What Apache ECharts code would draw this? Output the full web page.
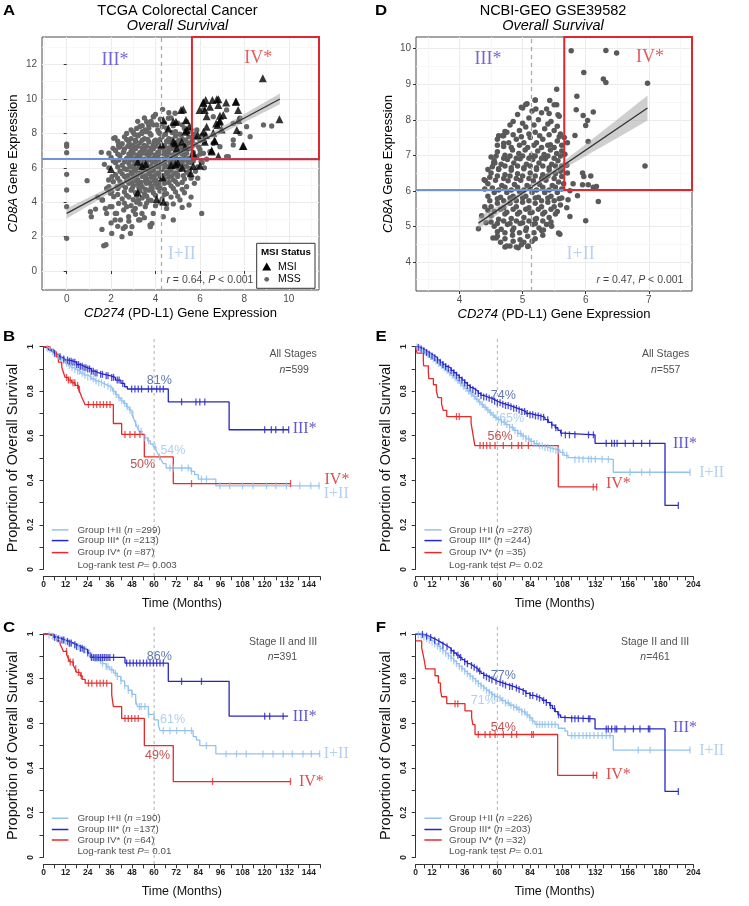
<!DOCTYPE html>
<html>
<head>
<meta charset="utf-8">
<script src="https://cdn.jsdelivr.net/npm/echarts@6.0.0/dist/echarts.min.js"></script>
<style>
html, body { margin: 0; padding: 0; background: #fff; }
#chart { width: 749px; height: 906px; }
</style>
</head>
<body>
<div id="chart"></div>
<script>
// ---------- scatter data (A: TCGA, D: GSE39582) ----------
const tcgaMss = [
  [0,7.38],[0,7.25],[0,6.88],[0,5.62],[0,4.71],[0,3.74],[0,1.9],
  [0.92,5.25],[1.07,3.45],[1.11,3.16],[1.56,6.9],[1.59,2.42],[1.67,1.47],[1.77,1.53],[1.59,4.13],[1.74,3.64],
  [1.89,5.29],[2.04,5.48],[1.97,4.52],[2.12,4.32],[2.27,4.9],[2.04,3.74],[2.19,3.35],[2.34,3.93],[2.42,2.97],
  [2.57,3.55],[2.64,2.58],[2.79,3.16],[2.94,2.58],[3.09,3.64],[3.24,2.97],[3.39,3.35],[3.54,3.74],[3.69,4.13],
  [3.77,2.58],[2.49,2.0],[2.87,2.19],[3.84,2.77],[2.03,2.19],[2.18,2.97],[2.55,2.48],[3.3,2.97],[3.75,2.67],
  [3.9,3.35],[2.7,3.74],[2.25,3.35],[1.8,3.35],[3.23,4.13],[1.95,3.74],[1.62,4.13],[2.03,4.61],[2.33,4.9],[2.1,5.19],
  [2.12,7.71],[2.09,7.13],[2.34,7.33],[2.57,6.94],[2.87,7.33],[3.09,7.52],[3.24,7.91],[3.39,8.0],[3.54,8.2],
  [3.69,8.49],[3.92,8.97],[4.22,8.82],[2.18,7.75],[2.4,7.23],[2.85,7.23],[3.15,8.29],[3.6,8.68],[3.9,8.97],
  [3.6,8.1],[4.05,8.49],[4.32,9.4],[4.58,8.88],[4.88,9.17],[4.2,8.0],
  [6.08,3.35],[5.51,3.84],[5.1,4.13],[4.8,2.97],[4.35,3.16],[4.5,3.64],
  [5.4,8.68],[5.86,8.2],[6.16,9.36],[6.6,8.97],[7.2,9.36],[7.5,8.58],[7.8,8.88],[8.1,8.39],[8.86,8.49],[9.23,8.43],
  [8.26,7.81],[7.8,8.0],[7.5,7.33],[6.9,7.23],[6.6,7.42],[6.45,6.94],[7.2,6.65],[6.16,6.84],[5.86,6.65],[7.5,7.62],[7.28,6.65],
  [3.2,8.7],[3.5,8.9],[4.0,9.1],[4.4,8.6],[4.7,8.9],[5.0,8.6],[3.8,8.7],[4.6,9.2],
  [3.4,8.45],[3.9,8.5],[4.3,8.4],[4.8,8.45],[5.2,8.5],
  [2.9,8.2],[3.3,8.4],[3.7,8.3],[4.1,8.2],[4.5,8.3],[4.9,8.1],[5.3,8.3],[5.6,8.2],[3.0,8.05],
  [2.7,8.0],[3.05,7.95],[3.4,8.1],[3.75,8.0],[4.15,8.05],[4.45,7.95],[4.75,8.05],[5.1,7.95],[5.45,8.05],[5.75,7.95],
  [2.6,7.8],[2.9,7.7],[3.2,7.85],[3.5,7.7],[3.8,7.9],[4.0,7.6],[4.3,7.8],[4.6,7.7],[4.9,7.85],[5.2,7.7],[5.5,7.8],[5.8,7.75],[6.1,7.9],
  [2.3,7.55],[2.7,7.65],[3.1,7.6],[3.4,7.6],[3.65,7.65],[3.95,7.55],[4.2,7.65],[4.5,7.55],[4.75,7.65],[5.05,7.6],[5.35,7.6],[5.65,7.55],[6.0,7.6],
  [2.5,7.4],[2.8,7.5],[3.0,7.3],[3.3,7.45],[3.5,7.3],[3.7,7.5],[3.9,7.35],[4.1,7.45],[4.4,7.3],[4.6,7.5],[4.8,7.35],
  [5.0,7.5],[5.3,7.3],[5.5,7.45],[5.8,7.35],[6.2,7.5],
  [2.35,7.2],[2.75,7.25],[3.0,7.15],[3.2,7.25],[3.4,7.15],[3.6,7.25],[3.8,7.15],[4.0,7.25],[4.2,7.15],[4.4,7.25],[4.6,7.15],
  [4.85,7.2],[5.1,7.25],[5.4,7.2],[5.65,7.25],[5.95,7.2],
  [2.2,7.0],[2.6,7.1],[2.9,6.95],[3.1,7.1],[3.3,6.9],[3.5,7.05],[3.7,6.95],[3.9,7.1],[4.1,6.9],[4.3,7.05],[4.5,6.95],
  [4.7,7.1],[4.9,6.9],[5.1,7.05],[5.3,6.95],[5.5,7.1],[5.7,6.9],[6.0,7.05],
  [1.9,6.85],[2.3,6.8],[2.55,6.9],[2.8,6.8],[3.0,6.85],[3.2,6.75],[3.4,6.85],[3.6,6.8],[3.8,6.85],[4.0,6.75],[4.2,6.85],
  [4.4,6.8],[4.6,6.85],[4.8,6.75],[5.0,6.85],[5.2,6.8],[5.4,6.85],[5.65,6.75],[6.0,6.8],
  [2.0,6.6],[2.4,6.7],[2.7,6.55],[2.9,6.7],[3.1,6.55],[3.3,6.65],[3.5,6.5],[3.7,6.7],[3.9,6.55],[4.1,6.65],[4.3,6.5],
  [4.5,6.7],[4.7,6.55],[4.9,6.65],[5.1,6.5],[5.3,6.7],[5.5,6.55],[5.8,6.6],[6.3,6.5],
  [2.1,6.4],[2.35,6.45],[2.6,6.35],[2.85,6.45],[3.05,6.35],[3.25,6.45],[3.45,6.35],[3.65,6.45],[3.85,6.35],[4.05,6.45],
  [4.25,6.35],[4.45,6.45],[4.65,6.35],[4.85,6.45],[5.05,6.35],[5.25,6.45],[5.45,6.35],[5.7,6.4],[6.05,6.35],
  [1.7,6.2],[2.2,6.3],[2.5,6.15],[2.8,6.25],[3.0,6.1],[3.2,6.3],[3.4,6.15],[3.6,6.25],[3.8,6.1],[4.0,6.3],[4.2,6.15],
  [4.4,6.25],[4.6,6.1],[4.8,6.3],[5.0,6.15],[5.2,6.25],[5.4,6.1],[5.6,6.3],[6.2,6.0],
  [1.9,6.0],[2.3,6.05],[2.6,5.95],[2.85,6.05],[3.05,5.95],[3.25,6.05],[3.45,5.95],[3.65,6.05],[3.85,5.95],[4.05,6.05],
  [4.25,5.95],[4.45,6.05],[4.65,5.95],[4.85,6.05],[5.05,5.95],[5.3,6.05],[5.55,5.95],[5.9,6.05],
  [2.4,5.8],[2.7,5.9],[2.9,5.75],[3.1,5.85],[3.3,5.7],[3.5,5.9],[3.7,5.75],[3.9,5.85],[4.1,5.7],[4.3,5.9],[4.5,5.75],
  [4.7,5.85],[4.9,5.7],[5.1,5.9],[5.4,5.75],[5.8,5.8],
  [2.2,5.6],[2.5,5.65],[2.75,5.55],[2.95,5.65],[3.15,5.55],[3.35,5.65],[3.55,5.55],[3.75,5.65],[3.95,5.55],[4.15,5.65],
  [4.35,5.55],[4.55,5.65],[4.75,5.55],[5.0,5.6],[5.25,5.55],[5.5,5.65],
  [2.3,5.4],[2.6,5.5],[2.8,5.35],[3.0,5.45],[3.2,5.3],[3.4,5.5],[3.6,5.35],[3.8,5.45],[4.0,5.3],[4.2,5.5],[4.4,5.35],
  [4.6,5.45],[4.8,5.3],[5.0,5.5],[5.3,5.35],[5.6,5.4],
  [2.4,5.2],[2.7,5.25],[2.95,5.15],[3.15,5.25],[3.35,5.15],[3.55,5.25],[3.75,5.15],[3.95,5.25],[4.15,5.15],[4.35,5.25],
  [4.6,5.15],[4.9,5.2],[5.2,5.15],
  [2.5,5.0],[2.8,5.1],[3.0,4.95],[3.2,5.05],[3.4,4.9],[3.6,5.1],[3.8,4.95],[4.0,5.05],[4.2,4.9],[4.4,5.1],[4.7,4.95],[5.0,5.05],[5.4,4.9],
  [2.3,4.8],[2.65,4.85],[2.95,4.8],[3.25,4.85],[3.55,4.75],[3.85,4.8],[4.1,4.85],[4.4,4.75],[4.8,4.8],[5.2,4.75],
  [2.6,4.6],[2.9,4.7],[3.1,4.55],[3.3,4.65],[3.5,4.5],[3.7,4.7],[3.9,4.55],[4.2,4.65],[4.5,4.5],[4.9,4.6],[5.3,4.55],
  [2.3,4.45],[2.7,4.4],[3.15,4.4],[3.6,4.35],[4.0,4.4],[4.4,4.45],[5.0,4.35],
  [2.5,4.2],[2.8,4.3],[3.0,4.15],[3.4,4.25],[3.8,4.1],[4.3,4.2],[4.7,4.3],[5.6,4.3],
  [2.6,3.95],[3.15,4.0],[3.6,3.95],[4.2,4.0],[4.8,3.9],
  [2.9,3.8],[3.3,3.9],[4.0,3.8],[4.5,3.9],[5.2,3.7],
  [1.4,4.3],[1.8,4.8],[1.3,3.6],[2.0,2.8],[2.3,2.6],[2.8,2.9],[3.1,3.3],[3.5,3.1],[3.0,3.5],[1.9,4.9],
  [5.9,5.4],[5.75,5.1],[6.1,6.3]
];
const tcgaMsi = [
  [2.0,5.93],[3.2,4.57],[3.56,6.22],[4.28,7.36],[4.31,5.45],[4.05,4.19],[4.35,4.03],[4.7,6.16],[4.58,8.29],[4.8,8.68],
  [4.88,7.42],[5.15,9.36],[4.95,7.13],[5.53,8.43],[5.33,8.1],[5.59,5.68],[5.7,6.1],[6.0,6.12],[5.7,6.84],[5.18,7.52],
  [5.33,7.23],[4.8,7.52],[4.35,8.78],[6.53,6.94],[6.65,7.58],[6.83,6.69],[6.6,8.04],[7.93,7.27],[7.66,8.2],[7.61,9.84],
  [7.72,9.36],[7.18,9.79],[6.9,9.03],[6.9,8.74],[6.73,8.58],[6.3,9.0],[6.26,9.94],[6.56,9.94],[6.83,9.98],[6.45,9.55],
  [5.98,9.36],[6.16,9.75],[6.16,8.1],[6.3,8.39],[8.83,11.2],[9.58,8.82],[6.15,9.81],[6.76,9.98],[7.63,9.85],[6.83,9.65],
  [6.22,9.36],[5.25,9.4],[7.05,9.07],[6.88,8.68],[6.79,8.49],[6.98,8.23],[5.37,8.78],[4.92,8.68],[5.4,8.2],[7.73,8.78],
  [6.27,7.9],[7.96,7.26],[6.53,7.0],[6.68,7.55],[6.22,7.51],[5.9,7.9],[5.0,6.3],[5.2,6.0],[3.2,6.35],[3.4,6.1],[4.9,6.2]
];
const geoPoints = [
  [5.77,9.94],[6.32,9.95],[6.49,9.88],[5.97,9.33],[6.28,9.15],[6.32,9.05],[6.98,9.03],[5.86,8.66],[5.85,8.28],
  [5.96,8.12],[6.12,8.22],[6.03,7.98],[6.0,7.84],[6.04,7.39],[5.83,7.56],[6.94,6.7],[5.95,6.5],[5.97,6.4],[6.08,6.42],
  [5.95,6.17],[6.04,6.17],[6.12,6.1],[6.17,6.12],[5.87,5.86],[6.2,5.7],[6.0,5.16],[5.54,8.86],[5.2,8.56],[5.0,8.33],
  [5.07,8.45],[5.21,8.3],[5.43,8.54],[5.54,8.42],[5.56,8.14],[4.7,7.55],[4.54,6.78],[4.41,6.28],[4.3,4.93],[4.53,4.67],
  [4.58,4.67],[4.75,4.45],[4.93,4.4],[5.09,4.45],[4.9,4.42],[5.57,4.81],[5.59,4.78],[5.75,5.28],[5.72,5.75],[5.7,5.52],
  [5.75,6.0],[5.46,5.0],[5.33,4.9],[5.2,5.2],[5.66,7.5],[5.71,7.35],[5.67,7.03],[5.7,6.72],[5.71,6.5],[5.8,6.2],
  [4.72,7.67],[4.7,7.34],[4.56,6.78],[4.39,6.31],[4.4,5.55],[4.35,5.3],[4.42,5.1],[4.45,6.6],[4.5,6.95],[4.62,7.55],
  [4.98,8.35],[5.05,8.43],[5.2,8.55],[5.38,8.3],[5.5,8.42],
  [4.92,8.15],[5.15,8.25],[5.42,8.18],
  [4.85,7.95],[5.1,8.05],[5.25,8.0],[5.45,7.95],[5.58,8.1],[5.3,8.2],
  [4.8,7.85],[5.0,7.9],[5.18,7.85],[5.4,7.88],[5.55,7.82],
  [4.75,7.65],[4.95,7.7],[5.05,7.8],[5.2,7.65],[5.35,7.75],[5.5,7.7],[5.6,7.6],
  [4.68,7.55],[4.85,7.58],[4.98,7.52],[5.1,7.6],[5.27,7.55],[5.42,7.58],[5.58,7.52],
  [4.6,7.45],[4.78,7.35],[4.9,7.45],[5.02,7.35],[5.12,7.5],[5.22,7.35],[5.32,7.45],[5.44,7.3],[5.55,7.4],[4.7,7.25],
  [4.6,7.28],[4.82,7.22],[4.95,7.28],[5.08,7.22],[5.18,7.28],[5.3,7.22],[5.4,7.28],[5.5,7.22],[5.62,7.28],
  [4.6,7.1],[4.72,7.0],[4.84,7.15],[4.94,7.05],[5.04,7.15],[5.14,7.0],[5.24,7.12],[5.34,7.02],[5.44,7.15],[5.54,7.05],[5.62,7.12],
  [4.58,6.98],[4.7,6.92],[4.8,6.98],[4.9,6.92],[5.0,6.98],[5.1,6.92],[5.2,6.98],[5.3,6.92],[5.4,6.98],[5.5,6.92],[5.6,6.98],
  [4.55,6.85],[4.66,6.75],[4.76,6.88],[4.86,6.78],[4.96,6.9],[5.06,6.75],[5.16,6.88],[5.26,6.78],[5.36,6.9],[5.46,6.75],[5.56,6.85],[5.62,6.7],
  [4.52,6.68],[4.62,6.62],[4.72,6.7],[4.82,6.65],[4.92,6.7],[5.02,6.65],[5.12,6.7],[5.22,6.65],[5.32,6.7],[5.42,6.65],[5.52,6.7],[5.62,6.62],
  [4.5,6.5],[4.62,6.6],[4.72,6.45],[4.82,6.58],[4.92,6.48],[5.02,6.62],[5.12,6.5],[5.22,6.6],[5.32,6.45],[5.42,6.58],[5.52,6.48],[5.6,6.55],
  [4.48,6.38],[4.6,6.42],[4.7,6.35],[4.8,6.42],[4.9,6.35],[5.0,6.42],[5.1,6.35],[5.2,6.42],[5.3,6.35],[5.4,6.42],[5.5,6.35],[5.62,6.4],
  [4.45,6.2],[4.57,6.3],[4.67,6.15],[4.77,6.28],[4.87,6.18],[4.97,6.3],[5.07,6.15],[5.17,6.28],[5.27,6.18],[5.37,6.3],[5.47,6.15],[5.57,6.25],[5.65,6.2],
  [4.4,6.05],[4.52,6.08],[4.62,6.02],[4.72,6.1],[4.82,6.02],[4.92,6.1],[5.02,6.02],[5.12,6.1],[5.22,6.02],[5.32,6.1],[5.42,6.02],[5.52,6.1],[5.62,6.05],
  [4.45,5.85],[4.55,5.95],[4.65,5.82],[4.75,5.95],[4.85,5.85],[4.95,5.98],[5.05,5.85],[5.15,5.95],[5.25,5.82],[5.35,5.95],[5.45,5.85],[5.55,5.95],[5.62,5.8],
  [4.48,5.72],[4.6,5.78],[4.7,5.72],[4.8,5.8],[4.9,5.72],[5.0,5.8],[5.1,5.72],[5.2,5.8],[5.3,5.72],[5.4,5.8],[5.5,5.72],[5.58,5.78],
  [4.5,5.55],[4.6,5.65],[4.7,5.52],[4.8,5.65],[4.9,5.55],[5.0,5.68],[5.1,5.52],[5.2,5.65],[5.3,5.55],[5.4,5.68],[5.5,5.55],[5.6,5.6],
  [4.45,5.45],[4.55,5.42],[4.65,5.48],[4.75,5.4],[4.85,5.48],[4.95,5.4],[5.05,5.48],[5.15,5.4],[5.25,5.48],[5.35,5.4],[5.45,5.48],[5.55,5.42],
  [4.5,5.3],[4.62,5.2],[4.72,5.35],[4.82,5.22],[4.92,5.35],[5.02,5.25],[5.12,5.38],[5.22,5.22],[5.32,5.35],[5.42,5.25],[5.52,5.35],
  [4.5,5.12],[4.6,5.08],[4.7,5.15],[4.8,5.08],[4.9,5.15],[5.0,5.1],[5.1,5.15],[5.2,5.08],[5.32,5.15],[5.45,5.12],
  [4.55,5.0],[4.66,4.92],[4.76,5.05],[4.86,4.95],[4.96,5.08],[5.06,4.95],[5.16,5.05],[5.26,4.95],[5.38,5.05],
  [4.6,4.85],[4.72,4.82],[4.84,4.88],[4.95,4.82],[5.05,4.88],[5.18,4.82],[5.3,4.88],
  [4.6,4.72],[4.72,4.65],[4.84,4.75],[4.96,4.62],[5.08,4.72],[5.2,4.65],[5.32,4.75],
  [4.65,4.55],[4.85,4.58],[5.02,4.55],[5.15,4.58],
  [4.72,4.42],[4.8,4.45],[4.98,4.48],[5.08,4.43]
];
// regression lines and 95% bands: [x, lower, upper]
const tcgaFit = [[0, 3.35], [9.6, 10.0]];
const tcgaBand = [[0,3.06,3.64],[2,4.56,4.92],[4,6.02,6.22],[6,7.37,7.65],[8,8.65,9.13],[9.6,9.69,10.31]];
const geoFit = [[4.3, 5.09], [6.98, 8.33]];
const geoBand = [[4.3,4.92,5.26],[4.7,5.47,5.67],[5.1,6.01,6.11],[5.5,6.46,6.62],[6.0,6.98,7.31],[6.5,7.49,8.01],[6.98,7.98,8.68]];
// cut-offs (PD-L1 dashed, CD8A blue line, PD-L1 high box start)
const tcgaCuts = { pdl1: 4.26, cd8: 6.5, box: 5.64 };
const geoCuts = { pdl1: 5.13, cd8: 6.02, box: 5.66 };
const tcgaTicksX = [0, 2, 4, 6, 8, 10], tcgaTicksY = [0, 2, 4, 6, 8, 10, 12];
const tcgaMinorX = [-1, 1, 3, 5, 7, 9, 11], tcgaMinorY = [-1, 1, 3, 5, 7, 9, 11, 13];
const geoTicksX = [4, 5, 6, 7], geoTicksY = [4, 5, 6, 7, 8, 9, 10];
const geoMinorX = [3.5, 4.5, 5.5, 6.5, 7.5], geoMinorY = [3.5, 4.5, 5.5, 6.5, 7.5, 8.5, 9.5];

// ---------- Kaplan-Meier data: steps [month, survival], censor months ----------
const bI = [[0,1],[1.5,0.993],[3,0.987],[4.5,0.977],[6,0.967],[7.5,0.957],[9,0.947],[10.5,0.937],[12,0.925],[13.5,0.915],
  [15,0.906],[16.5,0.898],[18,0.89],[20,0.881],[22,0.872],[24,0.864],[26,0.855],[28,0.846],[30,0.838],[32,0.83],[34,0.822],
  [36,0.814],[37.5,0.8],[39,0.785],[40.5,0.77],[42,0.757],[43.5,0.745],[45,0.73],[46.5,0.715],[48,0.695],[49,0.675],[50,0.655],
  [51,0.635],[52,0.62],[53.5,0.605],[55,0.59],[56.5,0.577],[58,0.563],[59.5,0.55],[61,0.535],[62,0.52],[63,0.505],[64,0.49],
  [65,0.475],[66.5,0.455],[80,0.44],[82,0.425],[84,0.405],[93.5,0.375],[149.8,0.375]];
const bIII = [[0,1],[1,0.995],[2,0.99],[3,0.985],[4,0.98],[5,0.975],[6,0.97],[7,0.965],[8,0.96],[9,0.955],[10,0.95],[11,0.945],
  [12,0.94],[14,0.935],[16,0.93],[18,0.92],[20,0.912],[22,0.905],[24,0.9],[26,0.89],[28,0.882],[30,0.876],[33,0.87],[36,0.862],
  [39,0.85],[42,0.835],[44,0.82],[45.5,0.81],[67.7,0.752],[100.7,0.627],[133,0.627]];
const bIV = [[0,1],[3.6,0.988],[5.5,0.977],[7,0.954],[8.1,0.931],[9.9,0.908],[10.8,0.885],[11.7,0.862],[13.5,0.85],[15.3,0.838],
  [17.1,0.826],[19,0.808],[20,0.79],[20.8,0.772],[21.7,0.756],[22.5,0.74],[37.9,0.655],[42.4,0.606],[54.7,0.505],[70.4,0.385],[134,0.385]];
const bIc = [2,3.5,5,6.5,8,9.5,11,12.5,14,15.5,17,18.5,19.5,21,22.5,24,25.5,27,28.5,30,31.5,33,35,36.5,38,39.5,41,42.5,44,45.5,
  47,48.5,50,51.5,53,55,57,60.5,63,68.6,70.4,75,78.5,80.3,85.7,88.4,95.7,101,108,113.7,121,126,131.8,139,145,149.5];
const bIIIc = [6,9,11,13,14,15,16,17,18,19,20,21,22,23,24,25,26,27,28,29,31,32,34,35,37,38,40,41,43,47.8,49.6,51.4,53.2,56.9,
  58.7,61.4,63.2,65,74.9,82.7,84.8,87.5,120,123.6,126,130,133];
const bIVc = [12.5,13.5,14.5,16,17,18.5,19.5,24.4,27.1,28.9,30.7,32.5,34.3,36.1,44.2,46.9,49.6,52.3,80.3,134];

const eI = [[0,1],[2,0.993],[4,0.985],[6,0.976],[8,0.966],[10,0.956],[12,0.946],[14,0.936],[16,0.925],[18,0.915],[20,0.904],
  [22,0.893],[24,0.882],[26,0.871],[28,0.86],[30,0.848],[32,0.836],[34,0.824],[36,0.812],[38,0.8],[40,0.789],[42,0.777],
  [44,0.764],[46,0.752],[48,0.74],[50,0.728],[52,0.716],[54,0.704],[56,0.693],[58,0.682],[60,0.672],[63,0.661],[66,0.65],
  [69,0.638],[72,0.624],[75,0.61],[78,0.598],[81,0.586],[84,0.575],[87,0.565],[90,0.555],[94,0.547],[98,0.541],[102,0.535],
  [106,0.525],[109,0.512],[112,0.502],[114.6,0.494],[145.2,0.436],[201.6,0.436]];
const eIII = [[0,1],[2,0.996],[4,0.99],[6,0.982],[8,0.974],[10,0.966],[12,0.958],[14,0.95],[16,0.94],[18,0.93],[20,0.92],
  [22,0.911],[24,0.903],[26,0.893],[28,0.883],[30,0.872],[32,0.861],[34,0.85],[36,0.838],[38,0.826],[40,0.816],[42,0.808],
  [44,0.8],[46,0.79],[48,0.781],[50,0.774],[53,0.768],[56,0.762],[58,0.755],[60,0.748],[63,0.742],[66,0.736],[69,0.73],
  [72,0.723],[75,0.716],[78,0.709],[81,0.7],[84,0.694],[88,0.689],[92,0.683],[95,0.672],[97.5,0.66],[100,0.648],[102.5,0.636],
  [104.5,0.624],[106.5,0.612],[108,0.604],[131.8,0.566],[183.2,0.287],[193,0.287]];
const eIV = [[0,1],[1,0.971],[5.6,0.943],[5.8,0.914],[9.3,0.886],[9.6,0.857],[13,0.829],[15.2,0.8],[16.4,0.771],[19,0.743],
  [20.2,0.714],[22.8,0.686],[40.7,0.657],[41.5,0.627],[42.5,0.59],[43.5,0.556],[104.8,0.37],[133,0.37]];
const eIc = [1,3,5,7,9,11,13,15,17,19,21,23,25,27,29,31,33,35,37,39,41,43,45,47,49,51,53,55,57,59,61,63,65,67,69,71,73,75,77,
  79,81,83,85,87,89,91,93,95,97,99,101,103,105,108,111,117,120,123,127,129,132,137,141.6,157.5,166,172,201.6];
const eIIIc = [2,4,6,8,10,12,14,16,18,20,22,24,26,28,30,32,34,36,38,40,42,44,46,48,50,52,54,56,58,60,62,64,66,68,70,72,74,76,
  78,80,82,84,86,88,90,92,94,97,100,103,107,110,113,117,127,130.6,140,144,146,148,154,160,166,172,193];
const eIVc = [30,32,47.3,49.7,52.2,54.6,58.3,64.4,70.5,75.4,77.9,82.8,130.5,133];

const cI = [[0,1],[2,0.995],[4,0.99],[6,0.984],[8,0.978],[10,0.972],[12,0.965],[14,0.957],[16,0.95],[18,0.943],[20,0.937],
  [22,0.93],[24,0.915],[26,0.9],[28,0.89],[30,0.88],[32,0.867],[34,0.853],[36,0.84],[38,0.825],[40,0.81],[42,0.79],[44,0.768],
  [46,0.748],[48,0.73],[50,0.7],[51,0.675],[56.9,0.64],[60,0.615],[62.3,0.593],[63.2,0.567],[81.2,0.54],[83,0.525],[84.8,0.5],
  [93.5,0.463],[149.8,0.463]];
const cIII = [[0,1],[2,0.996],[4,0.991],[6,0.985],[8,0.979],[10,0.973],[12,0.967],[14,0.96],[16,0.952],[18,0.944],[20,0.936],
  [22,0.93],[24,0.915],[25.3,0.895],[44.2,0.87],[67.7,0.788],[100.7,0.632],[132.7,0.632]];
const cIV = [[0,1],[5.4,0.984],[7.2,0.969],[9,0.953],[10,0.938],[10.8,0.922],[12.6,0.906],[13.5,0.89],[14.4,0.875],[16.2,0.859],
  [17.1,0.844],[18,0.828],[19.9,0.813],[21,0.797],[22.6,0.78],[37,0.727],[37.9,0.675],[42.4,0.622],[54.7,0.5],[70.4,0.339],[134,0.339]];
const cIc = [3,5,7,9,11,12,14,15,17,19,20,22,23,25,26,28,29,31,32,34,35,37,39,40,42,44,46,48,50,52,53,55,57,65,68.6,72.2,76.7,
  80.3,88.4,99,104.7,110,119,124.5,130,135,140.8,145.3,149.8];
const cIIIc = [6,8,10,11,13,14,15,17,18,20,21,22,24,26,27,28,29,30,31,32,33,34,35,36,38,45.1,46.9,48.7,50.5,52.3,54.2,56,57.8,
  59.6,61.4,63.2,65,74.9,85.7,120,122.7,130];
const cIVc = [12.5,13.5,14.5,16,17.5,19,20.5,24.4,26.2,28.9,30.7,32.5,34.3,44.2,46,47.8,49.6,51.4,91.7,134];

const fI = [[0,1],[2,0.997],[4,0.992],[6,0.987],[8,0.98],[10,0.972],[12,0.964],[14,0.955],[16,0.945],[18,0.935],[20,0.924],
  [22,0.913],[24,0.902],[26,0.891],[28,0.879],[30,0.867],[32,0.855],[34,0.844],[36,0.833],[38,0.822],[40,0.811],[42,0.8],
  [44,0.789],[46,0.778],[48,0.768],[50,0.758],[52,0.748],[54,0.738],[56,0.729],[58,0.72],[60,0.712],[63,0.702],[66,0.691],
  [69,0.681],[72,0.672],[75,0.662],[78,0.651],[81,0.638],[83.5,0.625],[85.5,0.61],[87.7,0.595],[104.8,0.578],[109.7,0.565],
  [111.7,0.545],[145.2,0.48],[201.6,0.48]];
const fIII = [[0,1],[3,0.998],[6,0.995],[8,0.99],[10,0.984],[12,0.978],[14,0.972],[16,0.965],[18,0.958],[20,0.951],[22,0.943],
  [24,0.935],[26,0.925],[28,0.915],[30,0.905],[32,0.895],[34,0.885],[36,0.876],[38,0.867],[40,0.859],[42,0.851],[44,0.843],
  [46,0.834],[48,0.824],[50,0.815],[52,0.808],[54,0.801],[56,0.795],[58,0.789],[60,0.783],[63,0.777],[66,0.771],[69,0.765],
  [72,0.758],[75,0.751],[78,0.743],[81,0.734],[84,0.725],[87,0.718],[90,0.712],[93,0.703],[96,0.693],[98.5,0.68],[100.5,0.666],
  [102.5,0.652],[104.5,0.638],[106.5,0.627],[108,0.62],[131.8,0.575],[183.2,0.295],[193,0.295]];
const fIV = [[0,0.969],[4.4,0.938],[5.5,0.906],[6.5,0.875],[7.3,0.844],[14.2,0.813],[16.7,0.781],[18.2,0.75],[19.1,0.719],
  [22.8,0.688],[36.2,0.656],[41.1,0.625],[42,0.594],[43.6,0.55],[104.3,0.367],[133,0.367]];
const fIc = [2,4,6,8,10,12,14,16,18,20,22,24,26,28,30,32,34,36,38,40,42,44,46,48,50,52,54,56,58,60,62,64,66,68,70,72,74,76,78,80,
  82,84,86,89,91,93,95,97.5,100,102.5,114.6,117,120,123,125.5,128,131,134,137,140,142.8,163.6,172.2,201.6];
const fIIIc = [5,8,11,14,17,20,23,26,28,31,33,36,38,41,43,45,47,50,52,54,56,59,62,64,66,69,71,74,76,79,81,84,86,89,91,94,96,99,
  102,105,109.7,114.6,117,119.5,123,127,128,140,141.5,144,146.5,147.7,153.8,160,164.8,171,172,193];
const fIVc = [28.9,30.9,46,51,54.6,58.3,64.4,70.5,74.2,85.2,86.5,130.5,133];

const tcgaMonths = [0,12,24,36,48,60,72,84,96,108,120,132,144];
const geoMonths = [0,12,36,60,84,108,132,156,180,204];
const survTicks = [0, 0.2, 0.4, 0.6, 0.8, 1];
const landmark = 60;

// ---------- styling ----------
const SANS = 'Liberation Sans, Arial, sans-serif';
const SERIF = 'Liberation Serif, Times New Roman, serif';
const C_I = '#93c2ee', C_III = '#2626c8', C_IV = '#e52a2a';
const P_III = '#34579a', P_I = '#9cc3ea', P_IV = '#b32626';

function it(size, color, extra) {
  return Object.assign({ fontStyle: 'italic', fontSize: size, color: color, fontFamily: SANS }, extra || {});
}
function survAt(steps, t) {
  let s = steps[0][1];
  for (const p of steps) { if (p[0] <= t) s = p[1]; else break; }
  return s;
}

const grids = [
  { left: 42, top: 37, width: 277, height: 253 },        // A
  { left: 416, top: 37, width: 276, height: 254 },       // D
  { left: 43.5, top: 346.7, width: 276.5, height: 222.6 },   // B
  { left: 415.7, top: 346.7, width: 277.6, height: 222.6 },  // E
  { left: 43.5, top: 634, width: 276.5, height: 223.3 },     // C
  { left: 415.7, top: 634, width: 277.6, height: 223.3 }     // F
].map(g => Object.assign({ containLabel: false }, g));

function scatterX(gi, min, max, ticks) {
  return {
    gridIndex: gi, type: 'value', min: min, max: max,
    axisLine: { show: false },
    axisTick: { show: true, length: 3, lineStyle: { color: '#333' }, customValues: ticks },
    axisLabel: { customValues: ticks, color: '#4d4d4d', fontSize: 10, margin: 4, fontFamily: SANS },
    splitLine: { show: true, lineStyle: { color: '#ebebeb', width: 1 } },
    name: '{i|CD274} (PD-L1) Gene Expression', nameLocation: 'middle', nameGap: 17,
    nameTextStyle: { fontSize: 13, color: '#000', fontFamily: SANS, rich: { i: it(13, '#000') } }
  };
}
function scatterY(gi, min, max, ticks, gap) {
  return {
    gridIndex: gi, type: 'value', min: min, max: max,
    axisLine: { show: false },
    axisTick: { show: true, length: 3, lineStyle: { color: '#333' }, customValues: ticks },
    axisLabel: { customValues: ticks, color: '#4d4d4d', fontSize: 10, margin: 5, fontFamily: SANS },
    splitLine: { show: true, lineStyle: { color: '#ebebeb', width: 1 } },
    name: '{i|CD8A} Gene Expression', nameLocation: 'middle', nameGap: gap,
    nameTextStyle: { fontSize: 13, color: '#000', fontFamily: SANS, rich: { i: it(13, '#000') } }
  };
}
function kmX(gi, max, labels) {
  return {
    gridIndex: gi, type: 'value', min: 0, max: max, interval: 6, offset: 7,
    axisLine: { show: true, onZero: false, lineStyle: { color: '#333', width: 1 } },
    axisTick: { show: true, length: 4, lineStyle: { color: '#333', width: 1 } },
    axisLabel: { customValues: labels, fontSize: 8.5, fontWeight: 'bold', color: '#222', margin: 4, fontFamily: SANS },
    splitLine: { show: false },
    name: 'Time (Months)', nameLocation: 'middle', nameGap: 21,
    nameTextStyle: { fontSize: 12.5, color: '#111', fontFamily: SANS }
  };
}
function kmY(gi, gap) {
  return {
    gridIndex: gi, type: 'value', min: 0, max: 1, interval: 0.1,
    axisLine: { show: true, onZero: false, lineStyle: { color: '#333', width: 1 } },
    axisTick: { show: true, length: 4, lineStyle: { color: '#333', width: 1 } },
    axisLabel: { customValues: survTicks, rotate: 90, fontSize: 8.5, fontWeight: 'bold', color: '#222', margin: 8, fontFamily: SANS },
    splitLine: { show: false },
    name: 'Proportion of Overall Survival', nameLocation: 'middle', nameGap: gap,
    nameTextStyle: { fontSize: 14.5, color: '#111', fontFamily: SANS }
  };
}

// text notes placed in data coordinates: [x, y, text, labelStyle]
function noteSeries(ax, notes) {
  return {
    type: 'scatter', xAxisIndex: ax, yAxisIndex: ax, silent: true, clip: false, z: 10,
    symbolSize: 1, itemStyle: { color: 'rgba(0,0,0,0)' },
    data: notes.map(n => ({
      value: [n[0], n[1]],
      label: Object.assign({ show: true, position: 'inside', formatter: n[2], color: '#222', fontSize: 10.5, fontFamily: SANS }, n[3] || {})
    }))
  };
}

function scatterPanel(ax, mss, msi, fit, band, cuts, xMax, yMax, minorX, minorY, dotColor, dotSize) {
  const out = [];
  out.push({
    type: 'scatter', xAxisIndex: ax, yAxisIndex: ax, silent: true, z: 2,
    data: mss, symbol: 'circle', symbolSize: dotSize, itemStyle: { color: dotColor, opacity: 1 },
    markLine: {
      silent: true, symbol: 'none', z: 1, animation: false, label: { show: false },
      lineStyle: { color: '#f4f4f4', width: 0.7, type: 'solid' },
      data: minorX.map(v => ({ xAxis: v })).concat(minorY.map(v => ({ yAxis: v })))
    }
  });
  if (msi) {
    out.push({
      type: 'scatter', xAxisIndex: ax, yAxisIndex: ax, silent: true, z: 2,
      data: msi, symbol: 'triangle', symbolSize: 8, itemStyle: { color: '#000' }
    });
  }
  out.push({
    type: 'custom', xAxisIndex: ax, yAxisIndex: ax, silent: true, z: 3,
    data: band, encode: { x: 0, y: [1, 2] },
    renderItem: function (params, api) {
      if (params.dataIndex !== 0) return null;
      const pts = band.map(b => api.coord([b[0], b[2]]));
      for (let i = band.length - 1; i >= 0; i--) pts.push(api.coord([band[i][0], band[i][1]]));
      return { type: 'polygon', shape: { points: pts }, style: { fill: 'rgba(160,160,160,0.5)' } };
    }
  });
  out.push({
    type: 'line', xAxisIndex: ax, yAxisIndex: ax, silent: true, z: 4,
    data: fit, symbol: 'none', lineStyle: { color: '#333', width: 1.3 },
    markLine: {
      silent: true, symbol: 'none', z: 5, animation: false, label: { show: false },
      data: [
        { yAxis: cuts.cd8, lineStyle: { color: '#6f93d8', width: 2, type: 'solid' } },
        { xAxis: cuts.pdl1, lineStyle: { color: '#a6a6a6', width: 1.2, type: [4, 4] } }
      ]
    },
    markArea: {
      silent: true, z: 6, animation: false,
      itemStyle: { color: 'rgba(0,0,0,0)', borderColor: '#e0262e', borderWidth: 2 },
      data: [[{ coord: [cuts.box, cuts.cd8] }, { coord: [xMax, yMax] }]]
    }
  });
  return out;
}

function kmPanel(ax, curves, notes, leg) {
  const out = [];
  curves.forEach(c => {
    out.push({
      type: 'line', xAxisIndex: ax, yAxisIndex: ax, silent: true, z: 3,
      data: c[0], step: 'end', symbol: 'none', lineStyle: { color: c[2], width: 1.3 }
    });
    out.push({
      type: 'scatter', xAxisIndex: ax, yAxisIndex: ax, silent: true, z: 3,
      data: c[1].map(t => [t, survAt(c[0], t)]), symbol: 'rect', symbolSize: [1.3, 7],
      itemStyle: { color: c[2] }
    });
  });
  // landmark at 60 months
  out.push({
    type: 'line', xAxisIndex: ax, yAxisIndex: ax, silent: true, clip: false, z: 2,
    data: [[landmark, -0.03], [landmark, 1.04]], symbol: 'none',
    lineStyle: { color: '#aaaaaa', width: 0.9, type: [3, 3] }
  });
  // legend keys
  leg.rows.forEach((y, i) => {
    out.push({
      type: 'line', xAxisIndex: ax, yAxisIndex: ax, silent: true, z: 5,
      data: [[leg.x0, y], [leg.x1, y]], symbol: 'none', lineStyle: { color: curves[i][2], width: 1.5 }
    });
  });
  const legNotes = leg.texts.map((t, i) => [leg.xt, leg.rows[i], t, { align: 'left', fontSize: 9.8 }]);
  legNotes.push([leg.xt, leg.py, leg.p, { align: 'left', fontSize: 9.8 }]);
  const rich = { i: it(9.8, '#222') };
  legNotes.forEach(n => { n[3].rich = rich; });
  out.push(noteSeries(ax, notes.concat(legNotes)));
  return out;
}

function groupNote(x, y, text, color) {
  return [x, y, text, { fontFamily: SERIF, fontSize: 16, color: color }];
}
function pctNote(x, y, text, color) {
  return [x, y, text, { fontSize: 12.5, color: color }];
}
function headNote(x, y, text) {
  return [x, y, text, { fontSize: 10.5, color: '#222', rich: { i: it(10.5, '#222') } }];
}

const series = [].concat(
  scatterPanel(0, tcgaMss, tcgaMsi, tcgaFit, tcgaBand, tcgaCuts, 11.36, 13.6, tcgaMinorX, tcgaMinorY, '#666666', 5.3),
  noteSeries(0, [
    [2.18, 12.27, 'III*', { fontFamily: SERIF, fontSize: 18, color: '#4e3fd0' }],
    [8.62, 12.38, 'IV*', { fontFamily: SERIF, fontSize: 18, color: '#e03434' }],
    [5.18, 0.97, 'I+II', { fontFamily: SERIF, fontSize: 18, color: '#a9c6ea' }],
    [6.45, -0.52, '{i|r} = 0.64, {i|P} < 0.001', { fontSize: 10.5, color: '#111', rich: { i: it(10.5, '#111') } }]
  ]),
  scatterPanel(1, geoPoints, null, geoFit, geoBand, geoCuts, 7.685, 10.33, geoMinorX, geoMinorY, '#595959', 5.5),
  noteSeries(1, [
    [4.45, 9.71, 'III*', { fontFamily: SERIF, fontSize: 18, color: '#4e3fd0' }],
    [7.02, 9.77, 'IV*', { fontFamily: SERIF, fontSize: 18, color: '#e03434' }],
    [5.92, 4.22, 'I+II', { fontFamily: SERIF, fontSize: 18, color: '#a9c6ea' }],
    [6.86, 3.49, '{i|r} = 0.47, {i|P} < 0.001', { fontSize: 10.5, color: '#111', rich: { i: it(10.5, '#111') } }]
  ]),
  kmPanel(2, [[bI, bIc, C_I], [bIII, bIIIc, C_III], [bIV, bIVc, C_IV]], [
    headNote(135.4, 0.966, 'All Stages'), headNote(136, 0.895, '{i|n}=599'),
    pctNote(62.8, 0.847, '81%', P_III), pctNote(70.2, 0.533, '54%', P_I), pctNote(53.8, 0.472, '50%', P_IV),
    groupNote(141.7, 0.63, 'III*', '#3a30c8'), groupNote(159.2, 0.401, 'IV*', '#d42424'), groupNote(158.8, 0.341, 'I+II', '#a3c5ec')
  ], { x0: 4.5, x1: 13.5, xt: 18.4, rows: [0.177, 0.129, 0.075], py: 0.019,
       texts: ['Group I+II ({i|n} =299)', 'Group III* ({i|n} =213)', 'Group IV* ({i|n} =87)'], p: 'Log-rank test {i|P}= 0.003' }),
  kmPanel(3, [[eI, eIc, C_I], [eIII, eIIIc, C_III], [eIV, eIVc, C_IV]], [
    headNote(183.7, 0.966, 'All Stages'), headNote(183.7, 0.895, '{i|n}=557'),
    pctNote(64.4, 0.781, '74%', P_III), pctNote(70.5, 0.678, '65%', P_I), pctNote(62, 0.596, '56%', P_IV),
    groupNote(197.9, 0.563, 'III*', '#3a30c8'), groupNote(148.9, 0.383, 'IV*', '#d42424'), groupNote(217.5, 0.434, 'I+II', '#a3c5ec')
  ], { x0: 6.4, x1: 19.1, xt: 24.5, rows: [0.177, 0.129, 0.075], py: 0.019,
       texts: ['Group I+II ({i|n} =278)', 'Group III* ({i|n} =244)', 'Group IV* ({i|n} =35)'], p: 'Log-rank test {i|P}= 0.02' }),
  kmPanel(4, [[cI, cIc, C_I], [cIII, cIIIc, C_III], [cIV, cIVc, C_IV]], [
    headNote(130, 0.963, 'Stage II and III'), headNote(129.6, 0.896, '{i|n}=391'),
    pctNote(62.8, 0.901, '86%', P_III), pctNote(70, 0.619, '61%', P_I), pctNote(61.9, 0.455, '49%', P_IV),
    groupNote(141.7, 0.63, 'III*', '#3a30c8'), groupNote(145.3, 0.339, 'IV*', '#d42424'), groupNote(158.8, 0.463, 'I+II', '#a3c5ec')
  ], { x0: 4.5, x1: 13.5, xt: 18.4, rows: [0.175, 0.125, 0.078], py: 0.025,
       texts: ['Group I+II ({i|n} =190)', 'Group III* ({i|n} =137)', 'Group IV* ({i|n} =64)'], p: 'Log-rank test {i|P}= 0.01' }),
  kmPanel(5, [[fI, fIc, C_I], [fIII, fIIIc, C_III], [fIV, fIVc, C_IV]], [
    headNote(175.9, 0.963, 'Stage II and III'), headNote(175.9, 0.896, '{i|n}=461'),
    pctNote(64.4, 0.816, '77%', P_III), pctNote(49.7, 0.70, '71%', P_I), pctNote(64.4, 0.58, '54%', P_IV),
    groupNote(197.9, 0.578, 'III*', '#3a30c8'), groupNote(148.9, 0.369, 'IV*', '#d42424'), groupNote(217.5, 0.478, 'I+II', '#a3c5ec')
  ], { x0: 6.4, x1: 19.1, xt: 24.5, rows: [0.175, 0.125, 0.078], py: 0.025,
       texts: ['Group I+II ({i|n} =226)', 'Group III* ({i|n} =203)', 'Group IV* ({i|n} =32)'], p: 'Log-rank test {i|P}= 0.01' })
);

function txt(x, y, text, style, extra) {
  return Object.assign({
    type: 'text', x: x, y: y, z: 100, silent: true,
    style: Object.assign({ text: text, fontFamily: SANS, fill: '#000', align: 'center', verticalAlign: 'middle' }, style)
  }, extra || {});
}
const letters = [['A', 9, 11], ['D', 381, 11], ['B', 9, 337.5], ['E', 381, 337.5], ['C', 9, 628], ['F', 381, 628]];

const graphic = letters.map(l => txt(l[1], l[2], l[0], { fontSize: 14, fontWeight: 'bold' }, { scaleX: 1.2 })).concat([
  txt(177.5, 11, 'TCGA Colorectal Cancer', { fontSize: 14.5 }),
  txt(177.5, 25.7, 'Overall Survival', { fontSize: 14.5, fontStyle: 'italic' }),
  txt(553, 11, 'NCBI-GEO GSE39582', { fontSize: 14.5 }),
  txt(553, 25.7, 'Overall Survival', { fontSize: 14.5, fontStyle: 'italic' }),
  // MSI status key inside panel A
  { type: 'rect', z: 100, silent: true, shape: { x: 256.7, y: 243.3, width: 58.3, height: 45 },
    style: { fill: '#fff', stroke: '#333', lineWidth: 1 } },
  txt(286, 252.5, 'MSI Status', { fontSize: 9.8, fontWeight: 'bold' }),
  { type: 'polygon', z: 101, silent: true, shape: { points: [[266.7, 262.6], [271.2, 270.4], [262.2, 270.4]] }, style: { fill: '#000' } },
  txt(278, 266.7, 'MSI', { fontSize: 10.5, align: 'left' }),
  { type: 'circle', z: 101, silent: true, shape: { cx: 266.7, cy: 279.3, r: 2.4 }, style: { fill: '#666' } },
  txt(278, 279.3, 'MSS', { fontSize: 10.5, align: 'left' })
]);

const option = {
  animation: false,
  backgroundColor: '#fff',
  textStyle: { fontFamily: SANS },
  grid: grids.map((g, i) => i < 2 ? Object.assign({ show: true, borderColor: '#4a4a4a', borderWidth: 1, backgroundColor: '#fff' }, g) : g),
  xAxis: [
    scatterX(0, -1.11, 11.36, tcgaTicksX),
    scatterX(1, 3.31, 7.685, geoTicksX),
    kmX(2, 150, tcgaMonths), kmX(3, 204, geoMonths), kmX(4, 150, tcgaMonths), kmX(5, 204, geoMonths)
  ],
  yAxis: [
    scatterY(0, -1.1, 13.6, tcgaTicksY, 22),
    scatterY(1, 3.18, 10.33, geoTicksY, 21.5),
    kmY(2, 23), kmY(3, 22), kmY(4, 23), kmY(5, 22)
  ],
  series: series,
  graphic: graphic
};

const chart = echarts.init(document.getElementById('chart'), null, { renderer: 'canvas' });
chart.setOption(option);
</script>
</body>
</html>
